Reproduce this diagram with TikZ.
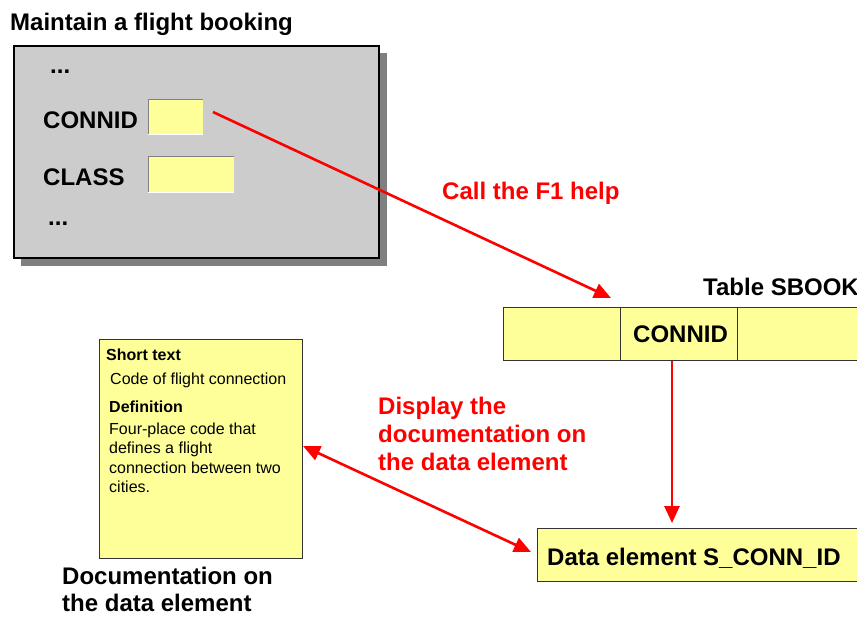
\documentclass[tikz,border=0pt]{standalone}
\usepackage{fontspec}
\setmainfont{Liberation Sans}
\usetikzlibrary{arrows.meta}
\definecolor{fieldyellow}{HTML}{FFFF99}
\definecolor{formgray}{HTML}{CCCCCC}
\definecolor{shadowgray}{HTML}{808080}
\definecolor{sapred}{HTML}{FF0000}
\begin{document}
\begin{tikzpicture}[x=1pt,y=-1pt,
  bigtext/.style={font=\fontsize{24}{28}\selectfont\bfseries, inner sep=0pt, anchor=base west},
  redtext/.style={bigtext, text=sapred, align=left},
  smalltext/.style={font=\fontsize{16}{19.5}\selectfont, inner sep=0pt, anchor=base west, align=left},
  smallbold/.style={smalltext, font=\fontsize{16}{19.5}\selectfont\bfseries},
  field/.style={fill=fieldyellow, draw=none, inner sep=0pt, anchor=north west},
  yellowbox/.style={fill=fieldyellow, draw=black!80, line width=1.2pt, inner sep=0pt, anchor=north west},
  redarrow/.style={draw=sapred, line width=2.6pt, -{Triangle[length=17pt,width=15pt]}},
  redarrowboth/.style={draw=sapred, line width=2.6pt, {Triangle[length=17pt,width=15pt]}-{Triangle[length=17pt,width=15pt]}}
]
\useasboundingbox (0,0) rectangle (857,616);
\clip (0,0) rectangle (857,616);
\fill[white] (0,0) rectangle (857,616);

% title
\node[bigtext] (title) at (10,30.5) {Maintain a flight booking};

% form window
\fill[shadowgray] (21,53) rectangle (387,266);
\node[draw=black, line width=1.6pt, fill=formgray, minimum width=365pt, minimum height=212pt, inner sep=0pt, anchor=north west] (form) at (13,45) {};
\node[bigtext] (dots1) at (50,73) {...};
\node[bigtext] (lconn) at (43,128) {CONNID};
\node[bigtext] (lclass) at (43,185) {CLASS};
\node[bigtext] (dots2) at (48,225) {...};

\node[field, minimum width=55pt, minimum height=35pt] (fconn) at (148,99) {};
\draw[gray, line width=1pt] (fconn.south west) -- (fconn.north west) -- (fconn.north east);
\draw[white, line width=1pt] (fconn.south west) -- (fconn.south east);
\node[field, minimum width=86pt, minimum height=36pt] (fclass) at (148,156) {};
\draw[gray, line width=1pt] (fclass.south west) -- (fclass.north west) -- (fclass.north east);
\draw[white, line width=1pt] (fclass.south west) -- (fclass.south east);

% call label
\node[redtext] (callf1) at (442,199) {Call the F1 help};

% table SBOOK
\node[bigtext] (tabtitle) at (703,295) {Table SBOOK};
\node[yellowbox, minimum width=117pt, minimum height=53pt] (cell1) at (503,307) {};
\node[yellowbox, minimum width=117pt, minimum height=53pt] (cellconn) at (620,307) {};
\node[yellowbox, minimum width=140pt, minimum height=53pt] (cell3) at (737,307) {};
\node[bigtext] (tconn) at (633,342.7) {CONNID};

% data element
\node[yellowbox, minimum width=340pt, minimum height=53pt] (de) at (537,528) {};
\node[bigtext] (detext) at (547,565) {Data element S\_CONN\_ID};

% documentation box
\node[yellowbox, minimum width=203pt, minimum height=219pt] (doc) at (99,339) {};
\node[smallbold] (st) at (106,360.7) {Short text};
\node[smalltext] (stv) at (110,384) {Code of flight connection};
\node[smallbold] (def) at (109,412.3) {Definition};
\node[smalltext] (defv) at (109,492.5) {Four-place code that\\defines a flight\\connection between two\\cities.};

\node[bigtext, align=left, font=\fontsize{24}{27}\selectfont\bfseries] (doclabel) at (62,611) {Documentation on\\the data element};

% display label
\node[redtext] (displ) at (378,470.5) {Display the\\documentation on\\the data element};

% connectors
\coordinate (a1s) at (213,112);
\coordinate (a1e) at (611,298);
\draw[redarrow] (a1s) -- (a1e);
\coordinate (a2s) at (672,361);
\coordinate (a2e) at (672,523);
\draw[redarrow] (a2s) -- (a2e);
\coordinate (a3s) at (303,446);
\coordinate (a3e) at (531,552);
\draw[redarrowboth] (a3s) -- (a3e);
\end{tikzpicture}
\end{document}
